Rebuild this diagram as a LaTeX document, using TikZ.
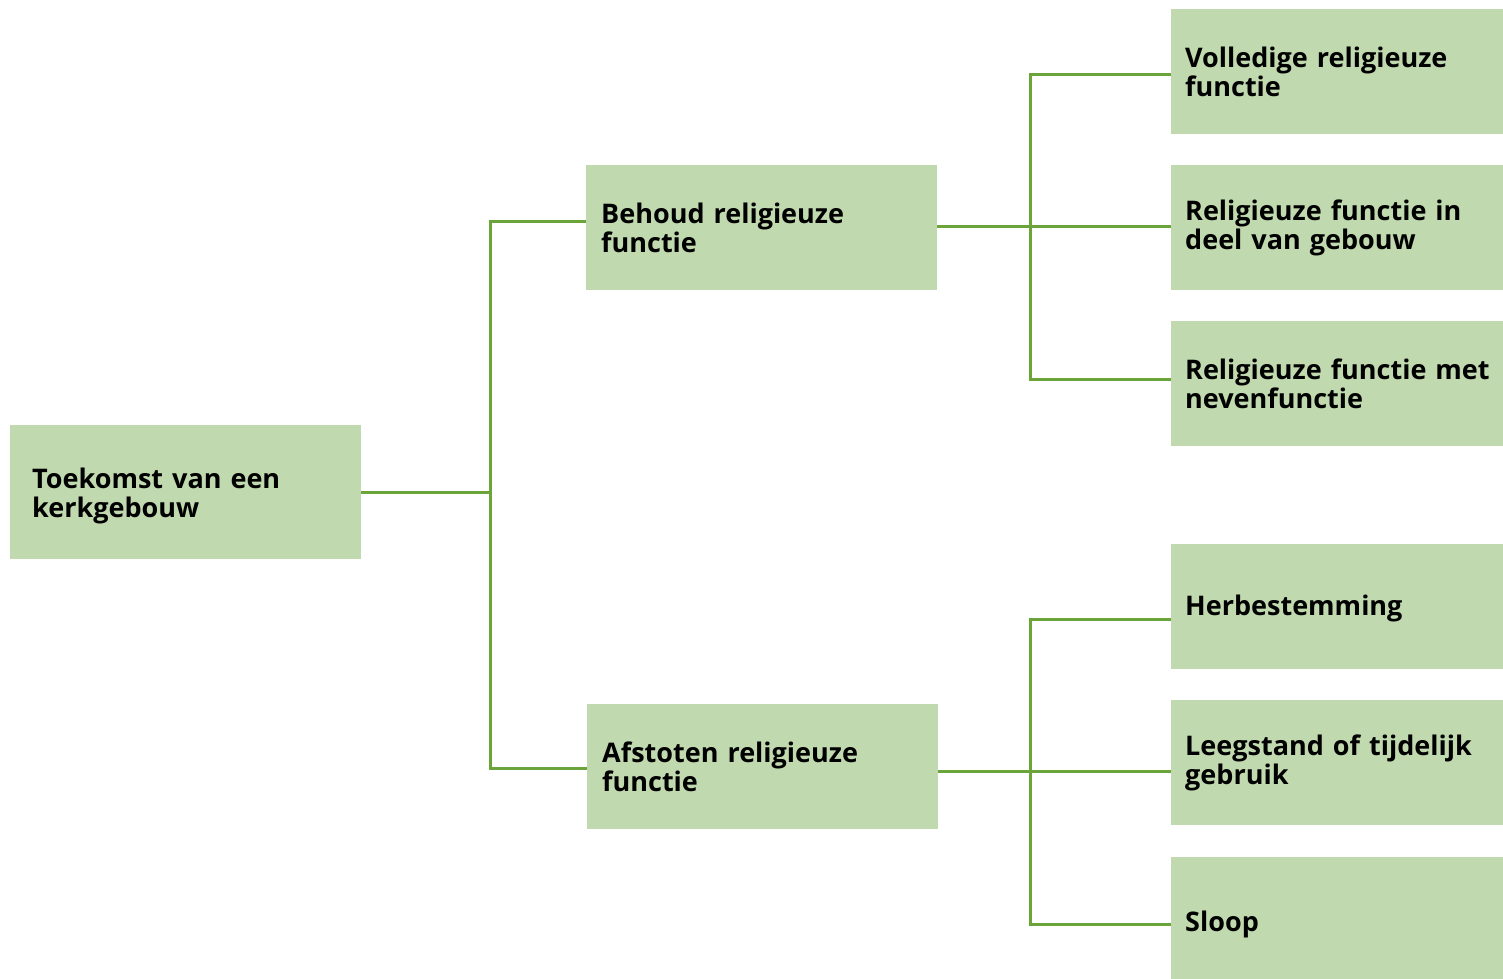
\documentclass[tikz,border=0pt]{standalone}
\usepackage{fontspec}
\setmainfont{Open Sans}
\definecolor{boxfill}{RGB}{192,217,174}
\definecolor{linegreen}{RGB}{106,164,58}
\begin{document}
\begin{tikzpicture}[x=1pt,y=-1pt,
  box/.style={draw=none,fill=boxfill,anchor=north west,inner xsep=#1,inner ysep=0pt,
    align=left,font=\fontsize{27}{29}\selectfont\bfseries,text=black},
  box/.default=15pt,
  rbox/.style={box=14pt,minimum width=332pt,minimum height=125pt,text width=304pt},
  conn/.style={draw=linegreen,line width=3pt,line join=miter}]
\begin{scope}
\clip (0,0) rectangle (1503,978);
% nodes
\node[box=22pt,minimum width=351pt,minimum height=134pt,text width=307pt] (root) at (10,425) {\rule{0pt}{28pt}Toekomst van een\\kerkgebouw};
\node[box,minimum width=351pt,minimum height=125pt,text width=321pt] (behoud) at (586,165) {Behoud religieuze\\functie};
\node[box,minimum width=351pt,minimum height=125pt,text width=321pt] (afstoten) at (587,704) {Afstoten religieuze\\functie};
\node[rbox] (volledig) at (1171,9) {Volledige religieuze\\functie};
\node[rbox] (deel) at (1171,165) {Religieuze functie in\\deel van gebouw};
\node[rbox,text width=330pt] (neven) at (1171,321) {Religieuze functie met\\nevenfunctie};
\node[rbox] (herbest) at (1171,544) {\rule{0pt}{24pt}Herbestemming};
\node[rbox] (leeg) at (1171,700) {Leegstand of tijdelijk\\gebruik};
\node[rbox,minimum height=134pt] (sloop) at (1171,857) {Sloop};
\end{scope}
\useasboundingbox (0,0) rectangle (1503,978);
% junction columns and connector rows
\coordinate (j1) at (490,0);
\coordinate (j2) at (1030,0);
\coordinate (r0) at (0,492);
\coordinate (rb) at (0,221);
\coordinate (ra) at (0,768);
\coordinate (rv) at (0,74);
\coordinate (rd) at (0,226);
\coordinate (rn) at (0,379);
\coordinate (rh) at (0,619);
\coordinate (rl) at (0,771);
\coordinate (rs) at (0,924);
% connectors
\draw[conn] (root.east |- r0) -- (j1 |- r0);
\draw[conn] (behoud.west |- rb) -- (j1 |- rb) -- (j1 |- ra) -- (afstoten.west |- ra);
\draw[conn] (behoud.east |- rd) -- (deel.west |- rd);
\draw[conn] (volledig.west |- rv) -- (j2 |- rv) -- (j2 |- rn) -- (neven.west |- rn);
\draw[conn] (afstoten.east |- rl) -- (leeg.west |- rl);
\draw[conn] (herbest.west |- rh) -- (j2 |- rh) -- (j2 |- rs) -- (sloop.west |- rs);
\end{tikzpicture}
\end{document}
